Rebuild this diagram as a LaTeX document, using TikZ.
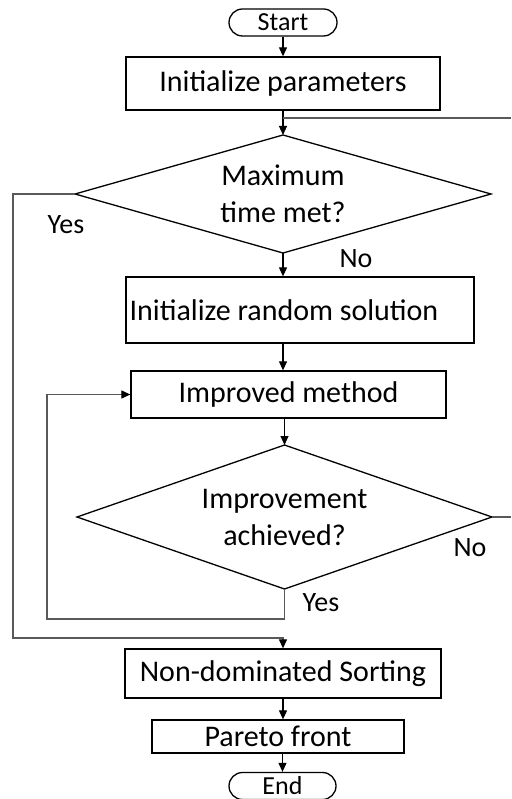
\documentclass[tikz,border=0pt]{standalone}
\usepackage{fontspec}
\setmainfont{Carlito}
\usetikzlibrary{shapes.geometric,arrows.meta}

\tikzset{
  txt/.style={font=\fontsize{30}{37}\selectfont, inner sep=0pt, align=center},
  lbl/.style={font=\fontsize{28}{34}\selectfont, inner sep=0pt},
  term/.style={draw, line width=1.3pt, rectangle, rounded corners=13.5pt,
    minimum height=27pt, inner sep=0pt, font=\fontsize{26}{30}\selectfont},
  procbox/.style={draw, line width=1.3pt, rectangle, inner sep=0pt, txt},
  decision/.style={draw, line width=1.3pt, diamond, inner sep=0pt, outer sep=0pt, txt},
  tip/.style={-{Triangle[length=9pt,width=8pt,color=black]}},
  arr/.style={line width=1.1pt, tip},
  back/.style={line width=1.1pt, draw=black!65},
}

\begin{document}
\begin{tikzpicture}[x=1pt, y=-1pt]
  \useasboundingbox (0,0) rectangle (511,799);
  \clip (0,0) rectangle (511,799);

  % terminals and process steps
  \node[term, minimum width=108pt] (start) at (283,22.5) {Start};
  \node[procbox, minimum width=314pt, minimum height=53pt] (init) at (283,83.5) {Initialize parameters};
  \node[decision, minimum width=416pt, minimum height=118pt, aspect=3.5] (dec1) at (283,194) {Maximum\\time met?};
  \node[draw, line width=1.3pt, rectangle, minimum width=348pt, minimum height=66pt] (rand) at (300,310) {};
  \node[txt] (randtext) at (284,310) {Initialize random solution};
  \node[procbox, minimum width=315pt, minimum height=47pt] (imp) at (288.5,394.5) {Improved method};
  \node[decision, minimum width=415pt, minimum height=144pt, aspect=2.9] (dec2) at (284.5,517) {Improvement\\achieved?};
  \node[procbox, minimum width=316pt, minimum height=49pt] (nds) at (283,673.5) {Non-dominated Sorting};
  \node[procbox, minimum width=252pt, minimum height=33pt] (par) at (278,736.5) {Pareto front};
  \node[term, minimum width=107pt] (end) at (282.5,786) {End};

  % branch labels
  \node[lbl] (yes1) at (66,225) {Yes};
  \node[lbl] (no1) at (356,259) {No};
  \node[lbl] (no2) at (470,548) {No};
  \node[lbl] (yes2) at (321,603) {Yes};

  % free ends and bends of the loops
  \coordinate (topright) at (511,118);
  \coordinate (midright) at (511,517);
  \coordinate (outerleft) at (13,194);
  \coordinate (outerbottom) at (13,638);
  \coordinate (innerbottom) at (47,619);

  % main flow
  \draw[arr] (start) -- (init);
  \draw[arr] (init.south -| dec1.north) -- (dec1.north);
  \draw[arr] (dec1.south) -- (dec1.south |- rand.north);
  \draw[arr] (dec1.south |- rand.south) -- (dec1.south |- imp.north);
  \draw[arr] (dec2.north |- imp.south) -- (dec2.north);
  \draw[arr] (nds.south) -- (nds.south |- par.north);
  \draw[arr] (end.north |- par.south) -- (end.north);

  % loops
  \draw[back] (dec1.north |- topright) -- (topright);
  \draw[back] (dec2.east) -- (midright);
  \draw[back, tip]
    (dec1.west) -- (outerleft) -- (outerbottom) -- (nds.north |- outerbottom) -- (nds.north);
  \draw[back, tip]
    (dec2.south) |- (innerbottom) |- (imp.west);
\end{tikzpicture}
\end{document}
